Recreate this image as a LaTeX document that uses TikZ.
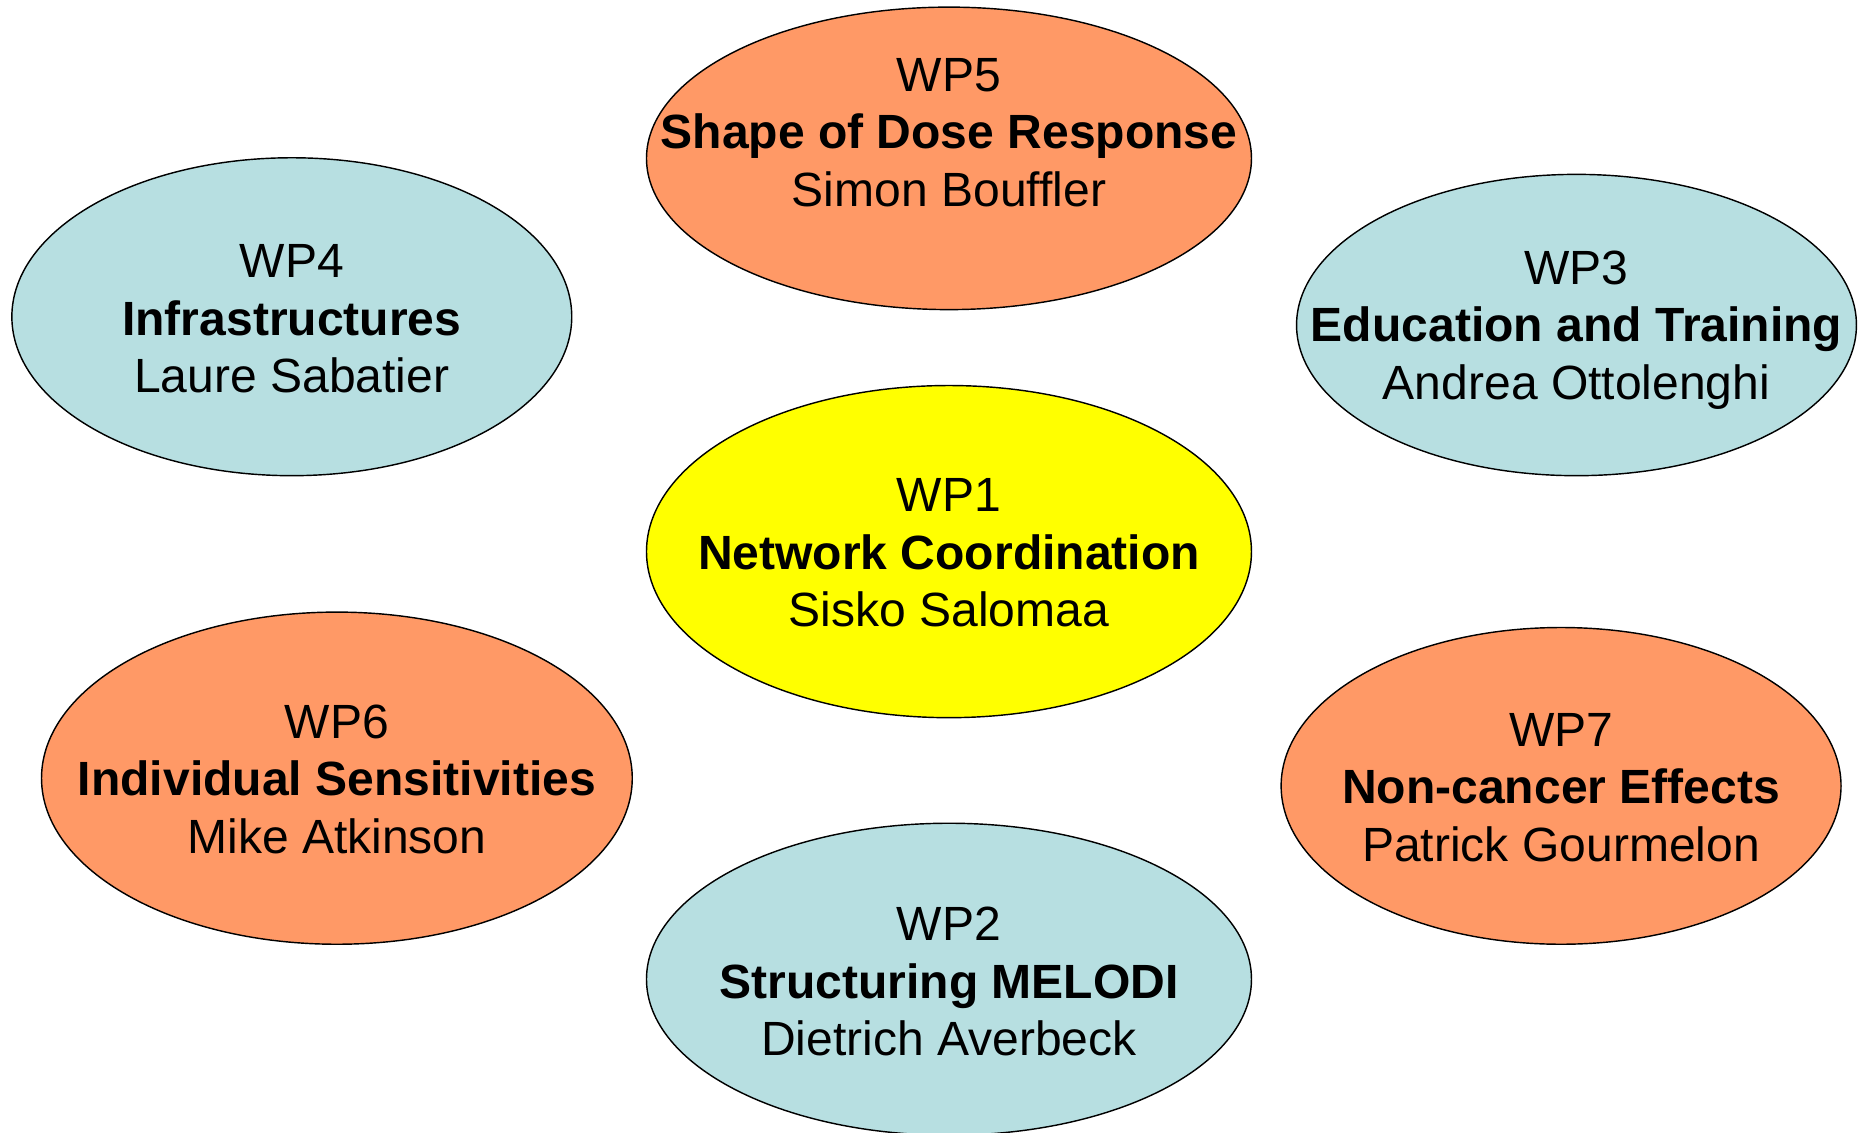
\documentclass[tikz,border=0pt]{standalone}
\usepackage{fontspec}
\setmainfont{Liberation Sans}
\usetikzlibrary{shapes.geometric}
\definecolor{wporange}{HTML}{FF9966}
\definecolor{wpblue}{HTML}{B7DFE1}
\definecolor{wpyellow}{HTML}{FFFF00}
\tikzset{
  wp/.style={ellipse, draw=black, line width=1.2pt, inner sep=0pt},
  wplabel/.style={align=center, inner sep=0pt, font=\fontsize{40.5}{48.5}\selectfont}
}
\begin{document}
\begin{tikzpicture}[x=1pt, y=-1pt]
\useasboundingbox[fill=white] (0,0) rectangle (1568,955);
% ellipses
\node[wp, fill=wporange, minimum width=510pt, minimum height=255pt] (wp5) at (800,133.5) {};
\node[wp, fill=wpblue,   minimum width=472pt, minimum height=268pt] (wp4) at (246,267) {};
\node[wp, fill=wpblue,   minimum width=472pt, minimum height=254pt] (wp3) at (1329,274) {};
\node[wp, fill=wpyellow, minimum width=510pt, minimum height=280pt] (wp1) at (800,465) {};
\node[wp, fill=wporange, minimum width=498pt, minimum height=280pt] (wp6) at (284,656) {};
\node[wp, fill=wporange, minimum width=472pt, minimum height=267pt] (wp7) at (1316,662.5) {};
\node[wp, fill=wpblue,   minimum width=510pt, minimum height=263pt] (wp2) at (800,825.5) {};
% labels
\node[wplabel] (t5) at ([yshift=22pt]wp5.center) {WP5\\\textbf{Shape of Dose Response}\\Simon Bouffler};
\node[wplabel] (t4) at ([yshift=-2pt]wp4.center) {WP4\\\textbf{Infrastructures}\\Laure Sabatier};
\node[wplabel] (t3) at ([yshift=-4pt]wp3.center) {WP3\\\textbf{Education and Training}\\Andrea Ottolenghi};
\node[wplabel] (t1) at ([yshift=-1pt]wp1.center) {WP1\\\textbf{Network Coordination}\\Sisko Salomaa};
\node[wplabel] (t6) at ([yshift=-1pt]wp6.center) {WP6\\\textbf{Individual Sensitivities}\\Mike Atkinson};
\node[wplabel] (t7) at ([yshift=-1.5pt]wp7.center) {WP7\\\textbf{Non-cancer Effects}\\Patrick Gourmelon};
\node[wplabel] (t2) at ([yshift=-2pt]wp2.center) {WP2\\\textbf{Structuring MELODI}\\Dietrich Averbeck};
\end{tikzpicture}
\end{document}
